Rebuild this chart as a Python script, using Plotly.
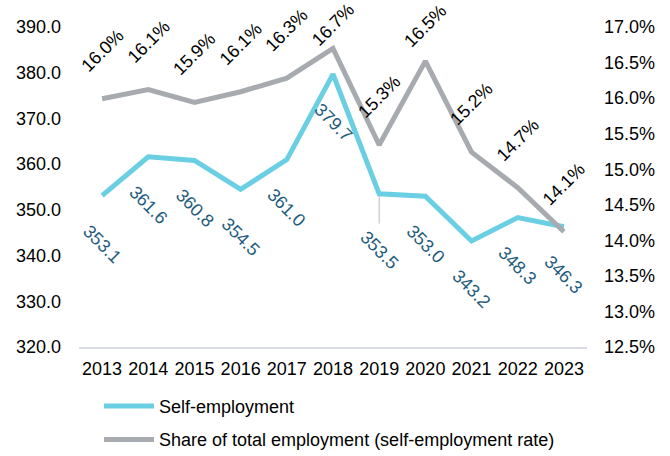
import plotly.graph_objects as go

years = ["2013", "2014", "2015", "2016", "2017", "2018", "2019", "2020", "2021", "2022", "2023"]
self_employment = [353.1, 361.6, 360.8, 354.5, 361.0, 379.7, 353.5, 353.0, 343.2, 348.3, 346.3]
share_rate = [15.99, 16.12, 15.94, 16.09, 16.28, 16.70, 15.34, 16.52, 15.24, 14.74, 14.12]

BLUE = "#6ACFE2"
GRAY = "#A7ABAF"
LABEL_BLUE = "#1E5C7C"
FONT = "Liberation Sans, Arial, sans-serif"
FS = 18

fig = go.Figure()
fig.add_trace(go.Scatter(x=years, y=self_employment, mode="lines", name="Self-employment",
                         line=dict(color=BLUE, width=5), yaxis="y", legendgroup="a"))
fig.add_trace(go.Scatter(x=years, y=share_rate, mode="lines",
                         name="Share of total employment (self-employment rate)",
                         line=dict(color=GRAY, width=5), yaxis="y2", legendgroup="b"))

# label offsets (px above the gray line) - the two top labels sit lower to fit
gray_shift = {"2018": 23, "2020": 35}

annotations = []
for i, (yr, v) in enumerate(zip(years, self_employment)):
    if yr == "2019":
        annotations.append(dict(x=i, y=v, xref="x", yref="y", text=f"{v:.1f}", textangle=45,
                                showarrow=True, arrowhead=0, arrowwidth=1, arrowcolor="#B8BCC0",
                                ax=0, ay=56, standoff=2, startstandoff=10,
                                font=dict(family=FONT, size=FS, color=LABEL_BLUE)))
    else:
        annotations.append(dict(x=i, y=v, xref="x", yref="y", text=f"{v:.1f}", textangle=45,
                                showarrow=False, yshift=-48,
                                font=dict(family=FONT, size=FS, color=LABEL_BLUE)))
for i, (yr, v) in enumerate(zip(years, share_rate)):
    annotations.append(dict(x=i, y=v, xref="x", yref="y2", text=f"{v:.1f}%", textangle=-45,
                            showarrow=False, yshift=gray_shift.get(yr, 48),
                            font=dict(family=FONT, size=FS, color="#000000")))

fig.update_layout(
    width=670, height=456,
    margin=dict(l=79, r=83, t=27, b=109, autoexpand=False),
    paper_bgcolor="white", plot_bgcolor="white",
    font=dict(family=FONT, size=FS, color="#000000"),
    xaxis=dict(type="category", range=[-0.5, 10.5], showline=True, linecolor="#D9DDE2",
               linewidth=2, showgrid=False, ticks="", tickfont=dict(size=FS),
               ticklabelstandoff=4, automargin=False),
    yaxis=dict(range=[320, 390], dtick=10, tickformat=".1f", showgrid=False, zeroline=False,
               ticks="", ticklabelstandoff=17, tickfont=dict(size=FS), automargin=False),
    yaxis2=dict(range=[12.5, 17.0], dtick=0.5, tickformat=".1f", ticksuffix="%",
                overlaying="y", side="right", showgrid=False, zeroline=False,
                ticks="", ticklabelstandoff=16, tickfont=dict(size=FS), automargin=False),
    legend=dict(orientation="v", x=0.0394, xanchor="left", y=-0.1275, yanchor="top",
                font=dict(size=FS), itemwidth=50, tracegroupgap=7,
                bgcolor="rgba(0,0,0,0)"),
    annotations=annotations,
    showlegend=True,
)

fig.write_html("out.html", config={"displayModeBar": False},
               post_script="document.body.style.margin='0';")
